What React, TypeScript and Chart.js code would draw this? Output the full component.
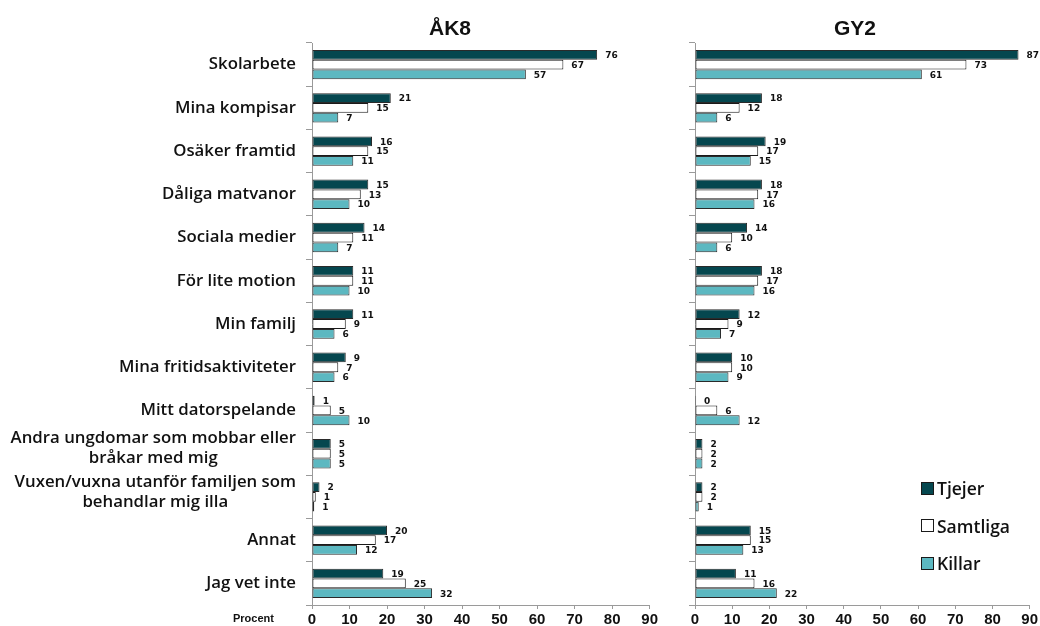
import React, { useEffect, useRef } from "react";
import { Chart, registerables } from "chart.js";

Chart.register(...registerables);

const categories: (string | string[])[] = [
  "Skolarbete",
  "Mina kompisar",
  "Osäker framtid",
  "Dåliga matvanor",
  "Sociala medier",
  "För lite motion",
  "Min familj",
  "Mina fritidsaktiviteter",
  "Mitt datorspelande",
  ["Andra ungdomar som mobbar eller", "bråkar med mig"],
  ["Vuxen/vuxna utanför familjen som", "behandlar mig illa"],
  "Annat",
  "Jag vet inte",
];

const seriesNames = ["Tjejer", "Samtliga", "Killar"];

const ak8Tjejer = [76, 21, 16, 15, 14, 11, 11, 9, 0.7, 5, 2, 20, 19];
const ak8Samtliga = [67, 15, 15, 13, 11, 11, 9, 7, 5, 5, 1, 17, 25];
const ak8Killar = [57, 7, 11, 10, 7, 10, 6, 6, 10, 5, 0.6, 12, 32];

const gy2Tjejer = [87, 18, 19, 18, 14, 18, 12, 10, 0.3, 2, 2, 15, 11];
const gy2Samtliga = [73, 12, 17, 17, 10, 17, 9, 10, 6, 2, 2, 15, 16];
const gy2Killar = [61, 6, 15, 16, 6, 16, 7, 9, 12, 2, 1, 13, 22];

const xTicks = [0, 10, 20, 30, 40, 50, 60, 70, 80, 90];

const COLORS = ["#05474f", "#ffffff", "#5cb8c1"];
const BORDERS = ["#2a2a2a", "#1a1a1a", "#2a2a2a"];
const LABEL_FONT = "'Open Sans', Roboto, sans-serif";

const valueLabelPlugin = {
  id: "valueLabels",
  afterDatasetsDraw(chart: any) {
    const ctx = chart.ctx;
    ctx.save();
    ctx.font = "bold 9px 'DejaVu Sans', 'Liberation Sans', sans-serif";
    ctx.fillStyle = "#111";
    ctx.textAlign = "left";
    ctx.textBaseline = "middle";
    chart.data.datasets.forEach((ds: any, di: number) => {
      const meta = chart.getDatasetMeta(di);
      meta.data.forEach((el: any, i: number) => {
        const v = ds.data[i];
        ctx.fillText(String(Math.round(v)), el.x + 8, el.y + 1);
      });
    });
    ctx.restore();
  },
};

const yLabelPlugin = {
  id: "yLabels",
  afterDraw(chart: any) {
    const opts = chart.options.plugins.yLabels;
    if (!opts || !opts.show) return;
    const ctx = chart.ctx;
    const yScale = chart.scales.y;
    ctx.save();
    ctx.font = `600 16.8px ${LABEL_FONT}`;
    ctx.fillStyle = "#111";
    ctx.textBaseline = "middle";
    const right = yScale.right - 16;
    const labels = chart.data.labels;
    labels.forEach((lab: any, i: number) => {
      const y = yScale.getPixelForTick(i);
      if (Array.isArray(lab)) {
        const widths = lab.map((l: string) => ctx.measureText(l).width);
        const maxW = Math.max(...widths);
        const cx = right - maxW / 2;
        const lh = 20;
        const startY = y - ((lab.length - 1) * lh) / 2 - 5;
        ctx.textAlign = "center";
        lab.forEach((l: string, k: number) => ctx.fillText(l, cx, startY + k * lh));
      } else {
        ctx.textAlign = "right";
        ctx.fillText(lab, right, y);
      }
    });
    ctx.restore();
  },
};

function makeConfig(data: number[][], yWidth: number, showLabels: boolean, padRight: number) {
  return {
    type: "bar" as const,
    data: {
      labels: categories,
      datasets: data.map((d, k) => ({
        label: seriesNames[k],
        data: d,
        backgroundColor: COLORS[k],
        borderColor: BORDERS[k],
        borderWidth: 1,
        borderSkipped: false,
        categoryPercentage: 0.68,
        barPercentage: 1.0,
      })),
    },
    options: {
      indexAxis: "y" as const,
      animation: false as const,
      responsive: false,
      maintainAspectRatio: false,
      layout: { padding: { top: 43, right: padRight, left: 0, bottom: 0 } },
      plugins: {
        legend: { display: false },
        tooltip: { enabled: false },
        title: { display: false },
        yLabels: { show: showLabels },
      },
      scales: {
        x: {
          min: 0,
          max: 90,
          afterBuildTicks(scale: any) {
            scale.ticks = xTicks.map((v) => ({ value: v }));
          },
          afterFit(scale: any) {
            scale.height = 21;
          },
          grid: {
            display: true,
            drawOnChartArea: false,
            drawTicks: true,
            tickLength: 4,
            color: "#9a9a9a",
          },
          border: { display: true, color: "#9a9a9a" },
          ticks: {
            padding: 2,
            color: "#111",
            font: { family: "'Liberation Sans', Arial, sans-serif", size: 15, weight: "bold" },
          },
        },
        y: {
          afterFit(scale: any) {
            scale.width = yWidth;
          },
          grid: {
            display: true,
            drawOnChartArea: false,
            drawTicks: true,
            tickLength: 6,
            offset: true,
            color: "#9a9a9a",
          },
          border: { display: true, color: "#9a9a9a" },
          ticks: { display: false },
        },
      },
    },
    plugins: [valueLabelPlugin, yLabelPlugin],
  };
}

function BarCanvas(props: { data: number[][]; width: number; yWidth: number; showLabels: boolean; padRight: number; left: number }) {
  const ref = useRef<HTMLCanvasElement | null>(null);
  useEffect(() => {
    if (!ref.current) return;
    const chart = new Chart(ref.current, makeConfig(props.data, props.yWidth, props.showLabels, props.padRight) as any);
    return () => chart.destroy();
  }, []);
  return (
    <canvas
      ref={ref}
      width={props.width}
      height={626}
      style={{ position: "absolute", left: props.left, top: 0, width: props.width, height: 626 }}
    />
  );
}

export default function App() {
  const titleStyle: React.CSSProperties = {
    position: "absolute",
    top: 16,
    transform: "translateX(-50%)",
    font: "bold 21px 'Liberation Sans', Arial, sans-serif",
    color: "#111",
    whiteSpace: "nowrap",
  };
  const legendItems = seriesNames.map((n, k) => (
    <div key={n} style={{ position: "absolute", left: 0, top: k * 37.5, display: "flex", alignItems: "center", height: 24 }}>
      <div style={{ width: 11, height: 11, background: COLORS[k], border: "1px solid #1a1a1a", marginRight: 3 }} />
      <span style={{ font: "600 17.5px 'Open Sans', Roboto, sans-serif", color: "#111", whiteSpace: "nowrap" }}>{n}</span>
    </div>
  ));
  return (
    <div style={{ position: "fixed", left: 0, top: 0, width: 1040, height: 626, background: "#fff", overflow: "hidden" }}>
      <BarCanvas data={[ak8Tjejer, ak8Samtliga, ak8Killar]} width={660} yWidth={312} showLabels={true} padRight={10} left={0} />
      <BarCanvas data={[gy2Tjejer, gy2Samtliga, gy2Killar]} width={380} yWidth={35} showLabels={false} padRight={10} left={660} />
      <div style={{ ...titleStyle, left: 450 }}>ÅK8</div>
      <div style={{ ...titleStyle, left: 855 }}>GY2</div>
      <div style={{ position: "absolute", left: 233, top: 612, font: "bold 11px 'Liberation Sans', Arial, sans-serif", color: "#111" }}>Procent</div>
      <div style={{ position: "absolute", left: 921, top: 476 }}>{legendItems}</div>
    </div>
  );
}
